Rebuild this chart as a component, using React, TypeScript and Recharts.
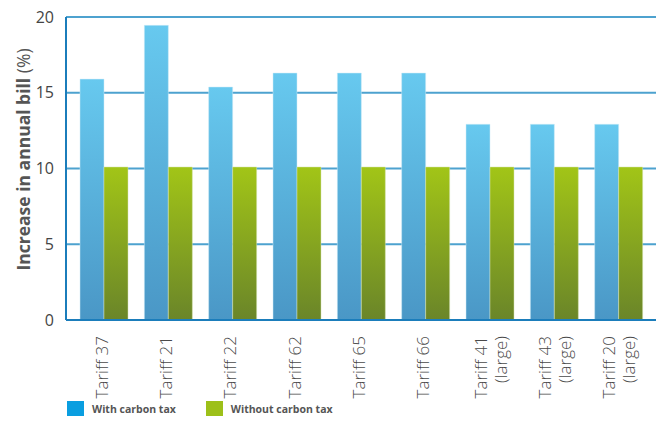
import React from "react";
import { BarChart, Bar, XAxis, YAxis, CartesianGrid, Legend } from "recharts";

const categories = [
  "Tariff 37",
  "Tariff 21",
  "Tariff 22",
  "Tariff 62",
  "Tariff 65",
  "Tariff 66",
  "Tariff 41\n(large)",
  "Tariff 43\n(large)",
  "Tariff 20\n(large)",
];
const withCarbonTax = [15.9, 19.45, 15.38, 16.3, 16.3, 16.3, 12.92, 12.92, 12.92];
const withoutCarbonTax = [10.1, 10.1, 10.1, 10.1, 10.1, 10.1, 10.1, 10.1, 10.1];
const yTicks = [0, 5, 10, 15, 20];
const seriesNames = ["With carbon tax", "Without carbon tax"];

const data = categories.map((c, i) => ({
  name: c,
  withTax: withCarbonTax[i],
  withoutTax: withoutCarbonTax[i],
}));

const FONT = "'Open Sans', 'Noto Sans', sans-serif";

const XTick = (props: any) => {
  const { x, y, payload } = props;
  const lines: string[] = String(payload.value).split("\n");
  const n = lines.length;
  return (
    <g>
      {lines.map((l, i) => {
        const dx = n === 1 ? -3 : (i - (n - 1) / 2) * 20;
        const tx = x + dx;
        const ty = y + 8;
        return (
          <text
            key={i}
            x={tx}
            y={ty}
            transform={`rotate(-90, ${tx}, ${ty})`}
            textAnchor="end"
            dominantBaseline="central"
            fontFamily={FONT}
            fontSize={17}
            fontWeight={300}
            fill="#4a4a4a"
          >
            {l}
          </text>
        );
      })}
    </g>
  );
};

const YLabel = (props: any) => {
  const { viewBox } = props;
  const cx = 23;
  const cy = viewBox.y + viewBox.height / 2 - 9;
  return (
    <text
      x={cx}
      y={cy}
      transform={`rotate(-90, ${cx}, ${cy})`}
      textAnchor="middle"
      dominantBaseline="central"
      fontFamily={FONT}
      fontSize={17.5}
      fill="#555"
    >
      <tspan fontWeight={700}>Increase in annual bill </tspan>
      <tspan fontWeight={400}>(%)</tspan>
    </text>
  );
};

const LegendContent = () => {
  const colors = ["#0a9ee0", "#9dc019"];
  return (
    <div style={{ display: "flex", alignItems: "center", paddingLeft: 67, height: 27 }}>
      {seriesNames.map((s, i) => (
        <div key={s} style={{ display: "flex", alignItems: "center", marginRight: i === 0 ? 30 : 0 }}>
          <div style={{ width: 17, height: 15, background: colors[i], marginRight: 8 }} />
          <span style={{ fontFamily: FONT, fontSize: 10.5, fontWeight: 700, color: "#555" }}>{s}</span>
        </div>
      ))}
    </div>
  );
};

export default function App() {
  return (
    <div style={{ position: "absolute", left: 0, top: 0, width: 660, height: 422, background: "#fff" }}>
      <BarChart
        width={660}
        height={422}
        data={data}
        margin={{ top: 17, right: 4, left: 0, bottom: 0 }}
        barGap={0}
        barSize={24}
      >
        <defs>
          <linearGradient id="gBlue" x1="0" y1="0" x2="0" y2="1">
            <stop offset="0%" stopColor="#67c9ef" />
            <stop offset="100%" stopColor="#4a97c6" />
          </linearGradient>
          <linearGradient id="gGreen" x1="0" y1="0" x2="0" y2="1">
            <stop offset="0%" stopColor="#a2c517" />
            <stop offset="100%" stopColor="#6a8529" />
          </linearGradient>
        </defs>
        <CartesianGrid vertical={false} stroke="#4da2cf" strokeWidth={2} />
        <XAxis
          dataKey="name"
          interval={0}
          height={75}
          tick={<XTick />}
          tickLine={false}
          axisLine={{ stroke: "#1b7dbb", strokeWidth: 2 }}
          padding={{ left: 6, right: 5 }}
        />
        <YAxis
          width={66}
          domain={[0, 20]}
          ticks={yTicks}
          tickLine={false}
          axisLine={{ stroke: "#1b7dbb", strokeWidth: 2 }}
          tick={{ fontFamily: FONT, fontSize: 16, fill: "#444" }}
          tickMargin={6}
          label={<YLabel />}
        />
        <Legend verticalAlign="bottom" height={27} content={<LegendContent />} />
        <Bar
          dataKey="withTax"
          name={seriesNames[0]}
          fill="url(#gBlue)"
          stroke="#cfeaf7"
          strokeWidth={0.5}
          isAnimationActive={false}
        />
        <Bar
          dataKey="withoutTax"
          name={seriesNames[1]}
          fill="url(#gGreen)"
          stroke="#d5e3b0"
          strokeWidth={0.5}
          isAnimationActive={false}
        />
      </BarChart>
    </div>
  );
}
